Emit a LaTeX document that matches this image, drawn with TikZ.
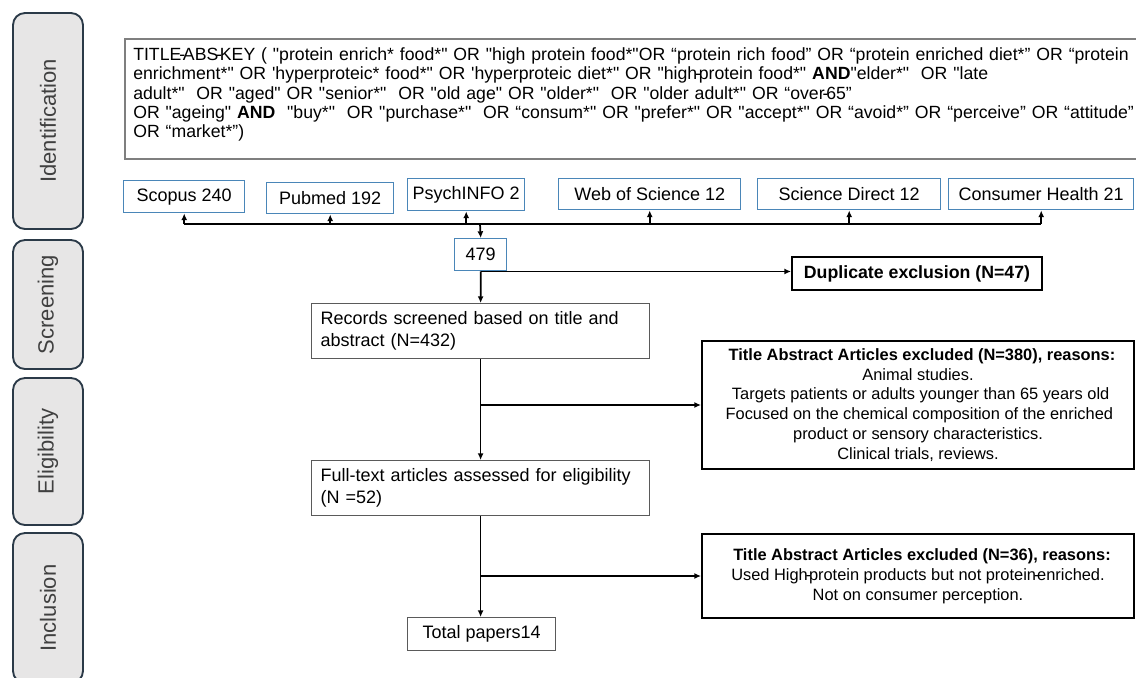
\documentclass[tikz,border=0pt]{standalone}
\usepackage{fontspec}
\setmainfont{Liberation Sans}[Ligatures=TeXOff]
\usetikzlibrary{arrows.meta}
\definecolor{srcblue}{HTML}{4A86B8}
\definecolor{sidefill}{HTML}{E7E6E6}
\definecolor{sideline}{HTML}{2B3A48}
\definecolor{sidetext}{HTML}{404040}
\definecolor{qgray}{HTML}{7F7F7F}
\definecolor{bgray}{HTML}{5A5A5A}
\newcommand\hy{\kern-1.6pt-\kern-1.6pt}
\begin{document}
\begin{tikzpicture}[x=0.75pt,y=-0.75pt,
  sidebox/.style={draw=sideline, line width=1.4pt, fill=sidefill, rounded corners=9pt,
    rotate=90, minimum height=52.5pt, inner sep=0pt, text=sidetext,
    font=\fontsize{16.5pt}{19pt}\selectfont},
  srcbox/.style={draw=srcblue, line width=1.1pt, anchor=north west, inner sep=0pt,
    font=\fontsize{13.5pt}{16.5pt}\selectfont},
  graybox/.style={draw=bgray, line width=0.9pt, anchor=north west, inner sep=0pt,
    font=\fontsize{13.5pt}{16.5pt}\selectfont},
  exclbox/.style={draw=black, line width=1.5pt, anchor=north west, inner sep=0pt,
    align=center, font=\fontsize{12.3pt}{14.85pt}\selectfont},
  conn/.style={line width=1.3pt, draw=black},
  arr/.style={conn, -{Latex[length=5pt,width=4.5pt]}}
]
\useasboundingbox (0,0) rectangle (1136,678);

% side labels
\node[sidebox, minimum width=162pt] (ident) at (48,121) {Identification};
\node[sidebox, minimum width=96.75pt] (screen) at (48,304.5) {Screening};
\node[sidebox, minimum width=110.25pt] (elig) at (48,451.5) {Eligibility};
\node[sidebox, minimum width=112.5pt] (incl) at (48,608) {Inclusion};

% query box
\node[draw=qgray, line width=1.3pt, anchor=north west, inner sep=0pt,
  minimum width=772.5pt, minimum height=90pt] (query) at (124,38) {};
\node[anchor=north west, inner sep=0pt, text width=800pt, align=left,
  font=\fontsize{13.25pt}{14.6pt}\selectfont] (querytext) at (133,47)
{TITLE\hy ABS\hy KEY ( "protein enrich* food*" OR "high protein food*"OR “protein rich food” OR “protein enriched diet*” OR “protein\\
enrichment*" OR 'hyperproteic* food*" OR 'hyperproteic diet*" OR "high\hy protein food*" \textbf{AND}"elder*" ~OR "late\\
adult*" ~OR "aged" OR "senior*" ~OR "old age" OR "older*" ~OR "older adult*" OR “over\hy 65”\\
OR "ageing" \textbf{AND} ~"buy*" ~OR "purchase*" ~OR “consum*" OR "prefer*" OR "accept*" OR “avoid*” OR “perceive” OR “attitude”\\
OR “market*”)};

% sources
\node[srcbox, minimum width=90.75pt, minimum height=24pt] (scopus) at (123,180) {Scopus 240};
\node[srcbox, minimum width=95.25pt, minimum height=23.25pt] (pubmed) at (266,182) {Pubmed 192};
\node[srcbox, minimum width=87.75pt, minimum height=24pt] (psych) at (407,178) {PsychINFO 2};
\node[srcbox, minimum width=136.5pt, minimum height=23.25pt] (wos) at (558,178) {Web of Science 12};
\node[srcbox, minimum width=137.25pt, minimum height=23.25pt] (sd) at (757,178) {Science Direct 12};
\node[srcbox, minimum width=138.75pt, minimum height=23.25pt] (ch) at (948,178) {Consumer Health 21};

% 479
\node[srcbox, minimum width=39pt, minimum height=24pt] (total479) at (454,238) {479};

% duplicate
\node[draw=black, line width=1.5pt, anchor=north west, inner sep=0pt,
  minimum width=187.5pt, minimum height=24.75pt,
  font=\fontsize{13.3pt}{16pt}\selectfont\bfseries] (dup) at (791,256) {Duplicate exclusion (N=47)};

% main flow
\node[graybox, minimum width=253.5pt, minimum height=41.25pt, inner xsep=6.75pt,
  text width=240pt, align=left] (rec) at (311,303)
  {Records screened based on title and\\abstract (N=432)};
\node[graybox, minimum width=253.5pt, minimum height=41.25pt, inner xsep=6.75pt,
  text width=240pt, align=left] (full) at (311,460)
  {Full-text articles assessed for eligibility\\(N =52)};
\node[graybox, minimum width=111pt, minimum height=24.75pt] (final) at (407,617) {Total papers14};

% exclusions
\node[exclbox, minimum width=324pt, minimum height=96pt] (excl1) at (701,340)
  {\hspace*{6pt}\textbf{Title Abstract Articles excluded (N=380), reasons:}\\
   Animal studies.\\
   \hspace*{4pt}Targets patients or adults younger than 65 years old\\
   \hspace*{2pt}Focused on the chemical composition of the enriched\\
   product or sensory characteristics.\\
   Clinical trials, reviews.};
\node[exclbox, minimum width=324pt, minimum height=63pt] (excl2) at (701,533)
  {\hspace*{6pt}\textbf{Title Abstract Articles excluded (N=36), reasons:}\\
   Used High\hy protein products but not protein\hy enriched.\\
   Not on consumer perception.};

% bus connectors
\coordinate (bus) at (480,224);
\draw[conn] (scopus.south |- bus) -- (ch.south |- bus);
\foreach \n in {scopus,pubmed,psych,wos,sd,ch}
  \draw[arr] (\n.south |- bus) -- (\n.south);
\draw[arr] (bus) -- (total479.north);

% flow arrows
\draw[arr] (total479.south) -- (rec.north);
\draw[arr] (total479.south) -- (total479.south -| dup.west);
\draw[arr] (rec.south) -- (full.north);
\draw[arr] (rec.south |- excl1.west) -- (excl1.west);
\draw[arr] (full.south) -- (full.south |- final.north);
\draw[arr] (full.south |- excl2.west) -- (excl2.west);
\end{tikzpicture}
\end{document}
